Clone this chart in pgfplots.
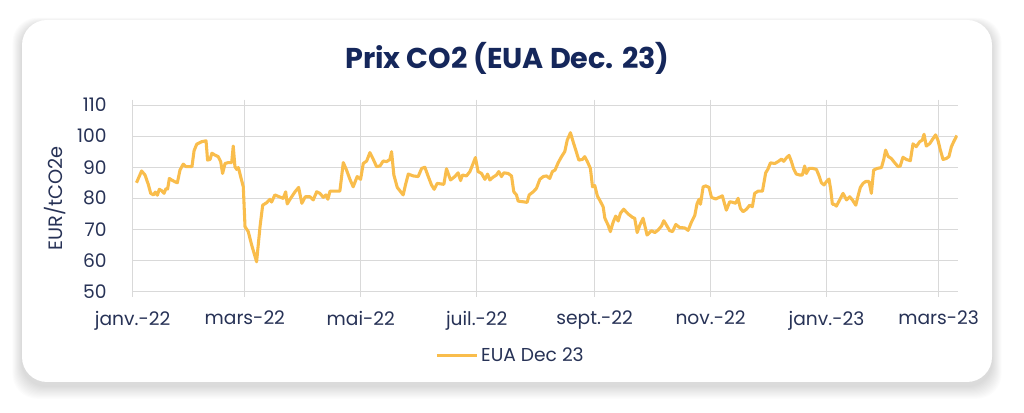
\documentclass[border=0pt]{standalone}
\usepackage{fontspec}
\setmainfont{Poppins}
\usepackage{pgfplots}
\pgfplotsset{compat=1.18}
\usetikzlibrary{calc}

\definecolor{titlenavy}{HTML}{15275B}
\definecolor{labelnavy}{HTML}{273256}
\definecolor{gridgrey}{HTML}{D9D9D9}
\definecolor{euaorange}{HTML}{F9BD4C}

\begin{document}
\begin{tikzpicture}
% page: 1024 x 413 px at 0.75pt per px
\path[use as bounding box, fill=white] (0,0) rectangle (768pt,309.75pt);

% soft shadow under the card
\foreach \i in {1,...,12}{
  \fill[black, opacity=0.010, rounded corners=18.75pt]
    ($(16.5pt-\i*0.6pt,23.25pt-3pt-\i*0.8pt)$) rectangle ($(744pt+\i*0.6pt,294.75pt-3pt+\i*0.4pt)$);
}
\fill[white, rounded corners=18.75pt] (16.5pt,23.25pt) rectangle (744pt,294.75pt);

% title
\node[font=\fontsize{21.5}{24}\selectfont\bfseries, text=titlenavy]
  at (380.5pt,266pt) {Prix CO2 (EUA Dec. 23)};

\begin{axis}[
  at={(99.5pt,91pt)}, anchor=south west,
  scale only axis,
  width=618.75pt, height=140pt,
  xmin=0, xmax=434,
  ymin=50, ymax=110,
  ytick={50,60,...,110},
  xtick={0,59,120,181,243,304,365,424},
  xticklabels={janv.-22, mars-22, mai-22, juil.-22, sept.-22, nov.-22, janv.-23, mars-23},
  axis line style={draw=none},
  grid=major,
  major grid style={gridgrey, line width=0.75pt},
  tick align=outside,
  major tick length=4pt,
  x tick style={gridgrey, line width=0.75pt},
  y tick style={draw=none},
  /pgf/number format/assume math mode=true,
  tick label style={font=\fontsize{14}{16}\selectfont, text=labelnavy},
  xticklabel style={yshift=-7pt},
  yticklabel style={xshift=-12pt},
  ylabel={EUR/tCO2e},
  every axis y label/.style={at={(axis description cs:-0.094,0.5)}, rotate=90, anchor=center,
    font=\fontsize{14.5}{16}\selectfont, text=labelnavy},
  legend style={at={(axis description cs:0.4585,-0.344)}, anchor=center,
    draw=none, fill=none, font=\fontsize{14}{16}\selectfont, text=labelnavy,
    inner sep=0pt},
  legend image code/.code={\draw[#1] (0pt,0pt) -- (30pt,0pt);},
]
\addplot[euaorange, line width=2.3pt, line join=round] coordinates {
(2,85.0) (4.7,88.8) (6.5,87.5) (8.2,84.5) (9.5,81.6) (10.9,81.1) (11.9,82.0)
(13,81.0) (14,82.9) (15.2,82.5) (16.5,81.6) (17.5,83.1) (18.4,83.0) (19.3,86.4)
(20.5,85.9) (22.3,85.3) (23.5,85.0) (24.9,89.1) (26.6,91.0) (28,90.2) (29.8,90.2)
(31.2,90.2) (32.3,95.3) (33.7,97.4) (36.3,98.2) (38.6,98.5) (39.4,92.3) (40.7,92.5)
(41.7,94.5) (43.3,93.9) (45,93.4) (46.3,91.8) (47.3,88.0) (48.6,91.2) (50.3,91.5)
(52.1,91.5) (52.9,96.8) (53.8,90.2) (54.7,89.3) (55.6,89.9) (56.8,87.0) (58.2,83.7)
(59.1,70.9) (60.8,69.3) (62.6,65.0) (65.2,59.6) (67,70.9) (68.4,77.8) (70.5,78.6)
(72.2,79.7) (73.1,78.8) (74.8,81.1) (77.1,80.5) (79.2,80.0) (80.5,82.1) (81.3,78.2)
(83.1,80.0) (85.4,82.1) (87.3,83.5) (89.0,78.4) (90.8,80.5) (93.3,80.5) (95,79.5)
(96.8,82.1) (98.5,81.6) (100.3,80.3) (101.7,81.1) (102.7,79.7) (103.8,82.3)
(106.4,82.3) (109,82.3) (110.8,91.5) (112.5,89.1) (114.3,86.1) (116,83.7)
(118.1,87.0) (119.9,86.1) (121.3,91.2) (123.1,92.0) (124.8,94.7) (126.6,92.5)
(128.3,90.2) (130.1,90.4) (131.8,92.0) (133.6,91.8) (135.3,92.5) (136.2,95.0)
(137.4,87.5) (139.2,83.5) (141,82.1) (142.3,81.1) (143.5,84.3) (145,87.8)
(147.6,87.2) (150.2,87.0) (152,89.6) (153.7,90.0) (155.5,87.0) (157.2,84.3)
(158.6,82.9) (160.2,84.8) (162.5,84.6) (163.7,84.5) (165.1,89.5) (167.2,85.9)
(169.5,87.0) (171.2,88.2) (172.5,85.7) (173.5,87.5) (175.6,87.2) (177.4,88.6)
(179.1,91.2) (180.3,93.1) (181.7,88.6) (183.5,88.0) (185.3,86.1) (186.7,87.8)
(187.9,85.9) (189.6,86.8) (191.4,87.5) (192.6,88.6) (194,87.0) (195.3,88.2)
(197.5,88.0) (199.3,87.2) (200.5,82.1) (201.9,81.1) (202.8,79.1) (205.4,78.9)
(207.5,78.7) (208.6,81.1) (210.7,82.1) (212.4,83.2) (214.2,86.1) (216,87.0)
(217.7,87.2) (219.4,86.4) (220.8,88.6) (222.2,89.1) (223.8,91.4) (225.6,93.4)
(227.3,95.0) (228.6,98.7) (230.3,101.1) (231.7,98.2) (233.1,95.5) (234.7,92.3)
(236.6,92.5) (237.8,93.4) (239.2,91.8) (240.8,89.6) (241.9,83.7) (243.1,84.1)
(244.5,80.7) (245.7,79.4) (247.5,77.3) (248.4,73.6) (250.1,71.4) (251.3,69.3)
(252.7,72.2) (254.1,74.3) (255.4,72.7) (256.6,75.2) (258.3,76.5) (260.6,75.0)
(262.9,73.9) (264.1,73.6) (265.4,69.0) (266.8,71.4) (268.5,73.6) (270.6,68.2)
(272.9,69.6) (274.7,69.0) (276.4,69.8) (278.2,71.1) (279.4,72.8) (280.8,71.4)
(282.5,69.6) (284,69.3) (285.7,71.6) (287.8,70.6) (290.4,70.5) (292.2,69.7)
(293.9,72.3) (295.7,74.5) (296.9,78.3) (298,79.7) (298.7,78.1) (300.1,83.7)
(301.5,84.0) (303.2,83.5) (304.5,80.3) (306.7,79.8) (308.5,80.3) (310.2,80.8)
(312.3,76.2) (314.1,78.9) (315.8,78.7) (317.2,78.4) (318.5,80.0) (319.7,76.8)
(321.1,75.7) (322.9,76.5) (324.6,77.8) (326,77.3) (327.2,81.6) (329,82.3)
(331.3,82.3) (333,88.2) (334.2,89.4) (335.5,91.4) (337.8,91.2) (339.5,91.8)
(341.3,92.6) (342.5,91.9) (343.9,93.0) (345.3,93.8) (346.5,91.9) (347.7,89.5)
(349.1,87.8) (350.9,87.5) (352.3,87.5) (353.5,90.4) (354.4,88.0) (355.8,89.6)
(357.9,89.6) (359.7,89.3) (361.1,87.2) (362.3,85.0) (363.7,84.3) (364.9,85.3)
(366.3,86.2) (367.2,82.9) (368.1,78.1) (369,78.1) (370.2,77.5) (372,79.6)
(373.7,81.6) (375.5,79.5) (377.2,80.5) (378.6,79.5) (380.4,77.8) (381.6,80.8)
(382.8,83.5) (384.2,84.8) (385.6,85.4) (387.4,85.4) (388.6,81.6) (389.8,89.1)
(391.6,89.6) (393.9,89.9) (395.1,92.5) (396.1,95.5) (397.4,93.5) (399.1,92.8)
(400.9,91.4) (402.6,90.2) (403.8,90.4) (405.2,93.2) (407,92.5) (409.1,92.1)
(410.5,97.5) (412.2,96.6) (414,98.2) (415.4,98.7) (416.3,100.6) (417.5,96.8)
(419.3,97.6) (420.7,98.9) (422.4,100.4) (423.6,98.7) (424.9,95.5) (426.3,92.5)
(428,92.8) (429.4,93.4) (430.7,96.6) (431.9,98.2) (433.6,100.2)
};
\addlegendentry{EUA Dec 23}
\end{axis}
\end{tikzpicture}
\end{document}
